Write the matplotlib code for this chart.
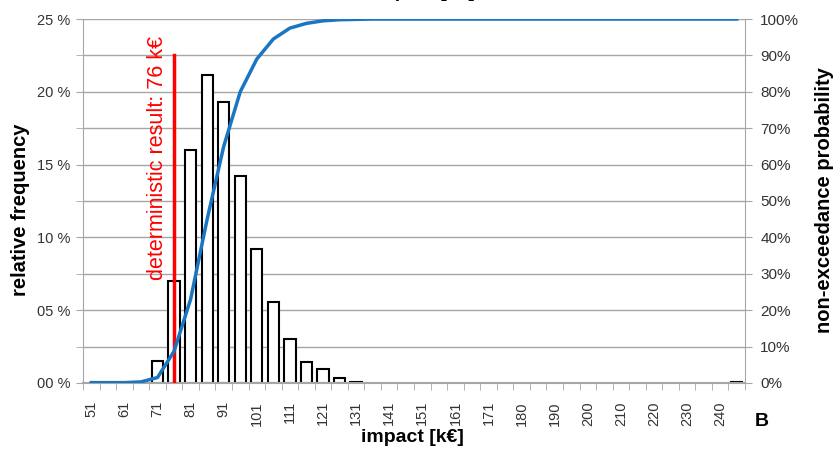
import numpy as np
import matplotlib.pyplot as plt
from matplotlib.ticker import FixedLocator, FuncFormatter

plt.rcParams['font.family'] = ['Liberation Sans', 'DejaVu Sans']

# impact classes [k€] (labels shown on every second class)
categories = ['51', '56', '61', '66', '71', '76', '81', '86', '91', '96',
              '101', '106', '111', '116', '121', '126', '131', '136', '141', '146',
              '151', '156', '161', '166', '171', '175', '180', '185', '190', '195',
              '200', '205', '210', '215', '220', '225', '230', '235', '240', '245']

# relative frequency [%]
rel_freq = [0, 0, 0, 0, 1.5, 7.0, 16.0, 21.15, 19.3, 14.25,
            9.2, 5.55, 3.0, 1.45, 0.95, 0.32, 0.06, 0, 0, 0,
            0, 0, 0, 0, 0, 0, 0, 0, 0, 0,
            0, 0, 0, 0, 0, 0, 0, 0, 0, 0.06]

# non-exceedance probability [%]
cdf = [0.1, 0.1, 0.1, 0.3, 1.5, 8.7, 23.0, 45.0, 65.0, 80.0,
       89.0, 94.5, 97.5, 98.8, 99.5, 99.8, 99.9, 100, 100, 100,
       100, 100, 100, 100, 100, 100, 100, 100, 100, 100,
       100, 100, 100, 100, 100, 100, 100, 100, 100, 100]

det_label = 'deterministic result: 76 k€'
det_class = '76'
det_top = 22.5

x = np.arange(len(categories))
freq = np.array(rel_freq)
grey = '#a6a6a6'
txt = '#333333'

fig = plt.figure(figsize=(8.37, 4.59), dpi=100)
ax = fig.add_axes([0.0992, 0.1656, 0.7909, 0.7930])

# histogram
m = freq > 0
ax.bar(x[m], freq[m], width=0.68, facecolor='white', edgecolor='black',
       linewidth=1.5, zorder=2)

# deterministic result
xd = categories.index(det_class)
ax.plot([xd, xd], [0, det_top], color='red', lw=2.5, zorder=3)
ax.text(xd - 1.0, 7.05, det_label, rotation=90, color='red', fontsize=15.5,
        ha='center', va='bottom', zorder=4)

ax.set_xlim(-0.5, len(categories) - 0.5)
ax.set_ylim(0, 25)
ax.yaxis.set_major_locator(FixedLocator(np.arange(0, 26, 5)))
ax.yaxis.set_minor_locator(FixedLocator(np.arange(2.5, 25, 5)))
ax.yaxis.set_major_formatter(FuncFormatter(lambda v, p: '%02d %%' % v))
ax.grid(axis='y', which='both', color=grey, lw=1, zorder=0)
ax.set_axisbelow(True)
ax.tick_params(axis='y', which='both', length=5, color=grey, labelsize=10.5,
               labelcolor=txt, pad=4)

ax.set_xticks(x[::2])
ax.set_xticklabels(categories[::2], rotation=90)
ax.set_xticks(np.arange(-0.5, len(categories), 1), minor=True)
ax.tick_params(axis='x', which='major', length=0, labelsize=10.5,
               labelcolor=txt, pad=13)
ax.tick_params(axis='x', which='minor', length=5, color=grey)

for s in ['top', 'right']:
    ax.spines[s].set_visible(False)
ax.spines['left'].set_color(grey)
ax.spines['bottom'].set_color(grey)
ax.spines['bottom'].set_linewidth(1.5)

# cumulative curve
ax2 = ax.twinx()
ax2.plot(x, cdf, color='#1a75c2', lw=2.5, zorder=5)
ax2.set_ylim(0, 100)
ax2.set_yticks(np.arange(0, 101, 10))
ax2.yaxis.set_major_formatter(FuncFormatter(lambda v, p: '%d%%' % v))
ax2.tick_params(axis='y', length=5, color=grey, labelsize=11, labelcolor=txt,
                pad=6)
for s in ['top', 'left', 'bottom']:
    ax2.spines[s].set_visible(False)
ax2.spines['right'].set_color(grey)

# labels
fig.text(21 / 837, 1 - 210 / 459, 'relative frequency', rotation=90,
         ha='center', va='center', fontsize=14.5, fontweight='bold')
fig.text(825 / 837, 1 - 200 / 459, 'non-exceedance probability', rotation=90,
         ha='center', va='center', fontsize=14.5, fontweight='bold')
fig.text(412 / 837, 1 - 437 / 459, 'impact [k€]', ha='center', va='center',
         fontsize=14, fontweight='bold')
fig.text(762 / 837, 1 - 421 / 459, 'B', ha='center', va='center',
         fontsize=14, fontweight='bold')
# title, cut off at the top edge as in the original
fig.text(423 / 837, 1 + 3 / 459, 'impact [k€]', ha='center', va='baseline',
         fontsize=14, fontweight='bold')

fig.savefig('out.png', dpi=100)
